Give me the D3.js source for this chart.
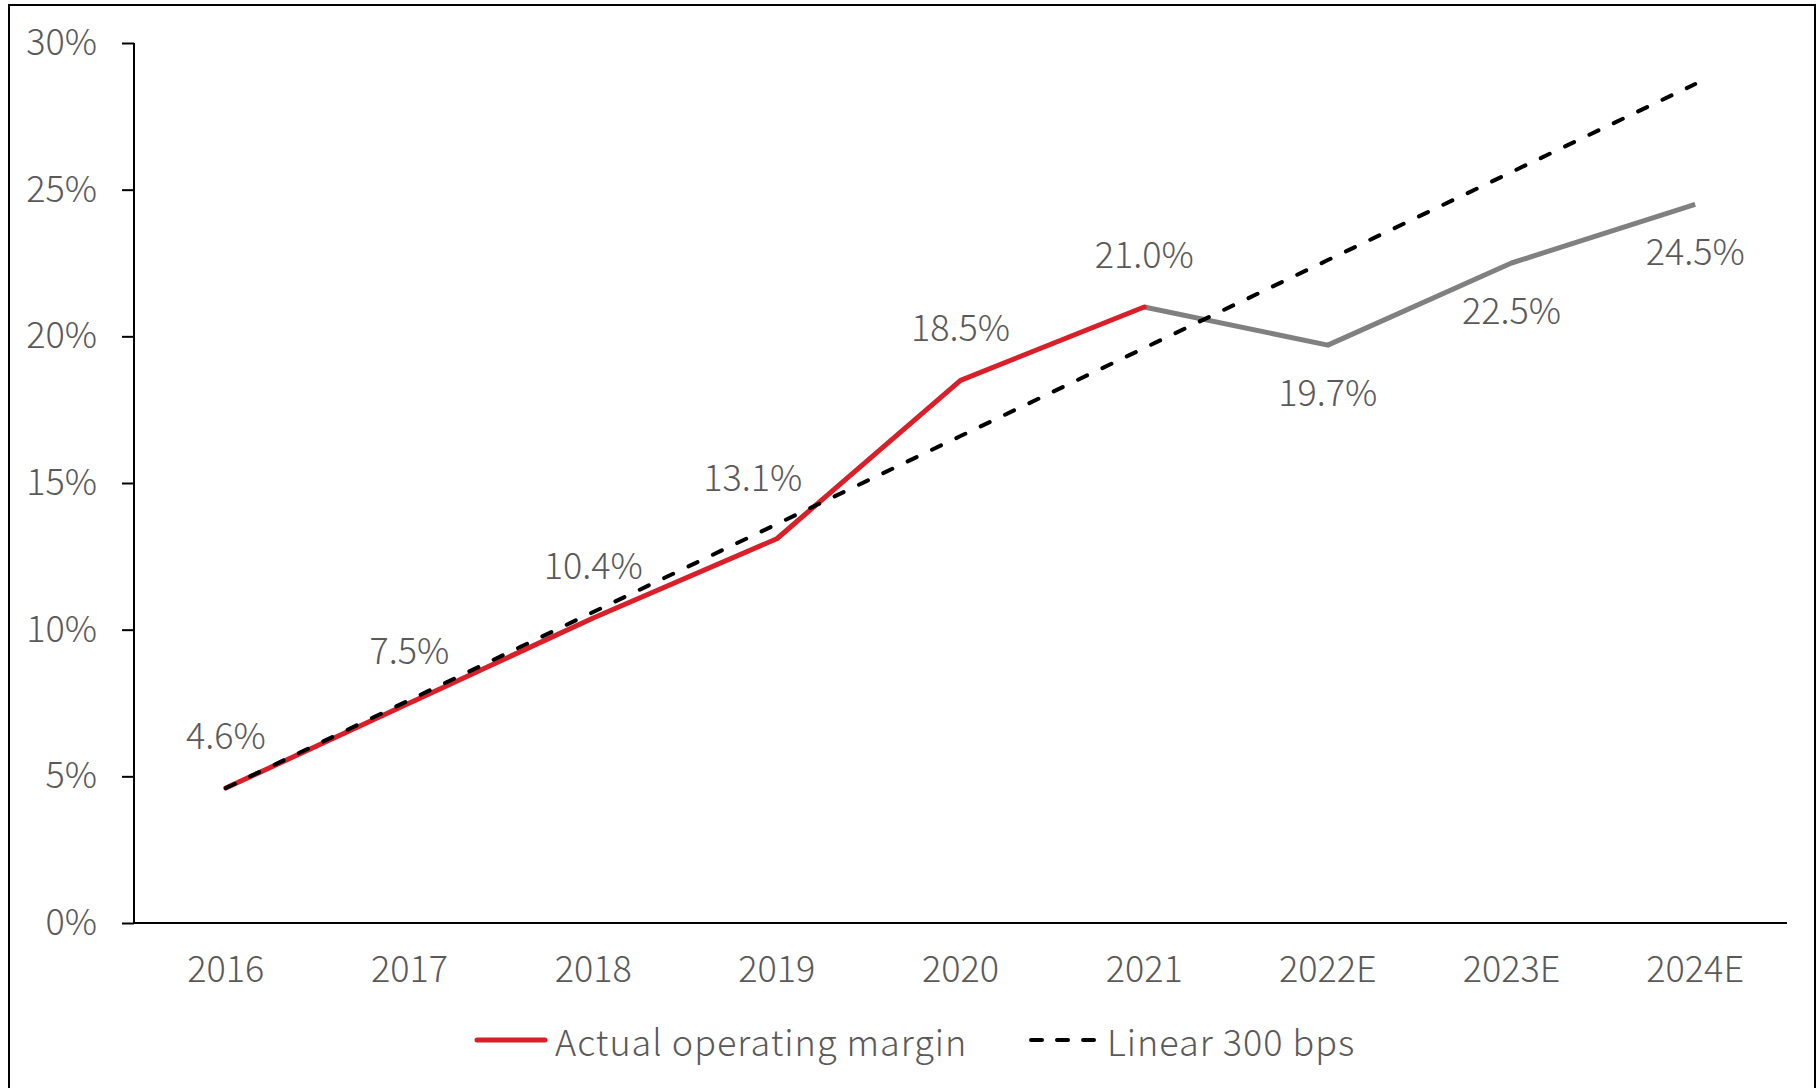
<!DOCTYPE html>
<html>
<head>
<meta charset="utf-8">
<script src="https://cdn.jsdelivr.net/npm/d3@7"></script>
<style>
  body { margin: 0; background: #fff; }
  svg { display: block; font-family: "Noto Sans CJK JP", "Noto Sans", sans-serif; font-weight: 300; }
  .tick text, .lbl, .legend text { fill: #595959; font-size: 36px; }
  .legend text { letter-spacing: 1px; }
</style>
</head>
<body>
<svg width="1817" height="1088"></svg>
<script>
const years = ['2016', '2017', '2018', '2019', '2020', '2021', '2022E', '2023E', '2024E'];
const actualMargin = [4.6, 7.5, 10.4, 13.1, 18.5, 21.0, 19.7, 22.5, 24.5];
const linear300 = [4.6, 7.6, 10.6, 13.6, 16.6, 19.6, 22.6, 25.6, 28.6];
const yTicks = [0, 5, 10, 15, 20, 25, 30];
const lastActual = '2021';
// which side of the point each value label sits on
const labelSide = ['up', 'up', 'up', 'up', 'up', 'up', 'down', 'down', 'down'];

function whenLoaded() {
  const svg = d3.select('svg');
  const red = '#DA1F28', grey = '#808080';

  svg.append('rect')
    .attr('x', 9).attr('y', 5)
    .attr('width', 1806).attr('height', 1120)
    .attr('fill', 'none').attr('stroke', '#000').attr('stroke-width', 2);

  const x = d3.scaleBand().domain(years).range([134, 1787]);
  const y = d3.scaleLinear().domain([0, 30]).range([923, 43]);
  const cx = d => x(d) + x.bandwidth() / 2;

  const yAxis = svg.append('g')
    .attr('transform', 'translate(134,0)')
    .call(d3.axisLeft(y).tickValues(yTicks).tickSize(12).tickPadding(25).tickFormat(d => d + '%'))
    .attr('font-family', null).attr('font-size', null);
  yAxis.selectAll('line, path').attr('stroke', '#000').attr('stroke-width', 2);
  yAxis.select('.domain').attr('d', `M0,${y(30)}V${y(0)}`);

  const xAxis = svg.append('g')
    .attr('transform', `translate(0,${y(0)})`)
    .call(d3.axisBottom(x).tickSize(0).tickPadding(33))
    .attr('font-family', null).attr('font-size', null);
  xAxis.select('.domain').attr('d', 'M134,0H1787').attr('stroke', '#000').attr('stroke-width', 2);

  const rows = years.map((yr, i) => ({ yr, v: actualMargin[i], lin: linear300[i], side: labelSide[i] }));
  const split = years.indexOf(lastActual);
  const line = d3.line().x(d => cx(d.yr)).y(d => y(d.v));

  svg.append('path')
    .datum(rows.slice(split))
    .attr('d', line)
    .attr('fill', 'none').attr('stroke', grey).attr('stroke-width', 5)
    .attr('stroke-linejoin', 'round');

  svg.append('path')
    .datum(rows.slice(0, split + 1))
    .attr('d', line)
    .attr('fill', 'none').attr('stroke', red).attr('stroke-width', 5)
    .attr('stroke-linejoin', 'round').attr('stroke-linecap', 'round');

  svg.append('path')
    .datum(rows)
    .attr('d', d3.line().x(d => cx(d.yr)).y(d => y(d.lin)))
    .attr('fill', 'none').attr('stroke', '#000').attr('stroke-width', 4)
    .attr('stroke-linecap', 'round').attr('stroke-dasharray', '10,17');

  svg.selectAll('.lbl').data(rows)
    .enter().append('text')
      .attr('class', 'lbl')
      .attr('text-anchor', 'middle')
      .attr('dominant-baseline', 'central')
      .attr('x', d => cx(d.yr) + (d.yr === '2019' ? -24 : 0))
      .attr('y', d => y(d.v) + (d.side === 'up' ? (d.yr === '2019' ? -64 : -55) : 45))
      .text(d => d.v.toFixed(1) + '%');

  const legend = svg.append('g').attr('class', 'legend').attr('transform', 'translate(0,1040)');
  legend.append('line')
    .attr('x1', 477).attr('x2', 545)
    .attr('stroke', red).attr('stroke-width', 5).attr('stroke-linecap', 'round');
  legend.append('text').attr('x', 555).attr('dominant-baseline', 'central').text('Actual operating margin');
  legend.append('line')
    .attr('x1', 1031).attr('x2', 1098)
    .attr('stroke', '#000').attr('stroke-width', 4).attr('stroke-linecap', 'round')
    .attr('stroke-dasharray', '11,15');
  legend.append('text').attr('x', 1107).attr('dominant-baseline', 'central').text('Linear 300 bps');
}

window.onload = whenLoaded;
</script>
</body>
</html>
